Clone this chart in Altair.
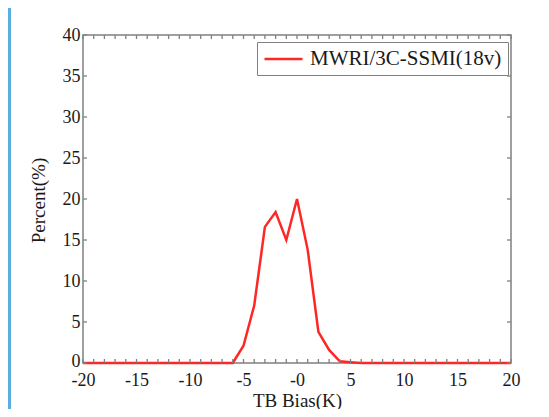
import altair as alt
import pandas as pd

# ---- data ----
bias = list(range(-20, 21))
percent = ([0] * 14
           + [0, 2.1, 7.0, 16.6, 18.4, 15.0, 20.0, 13.8, 3.8, 1.6, 0.2, 0.1]
           + [0] * 15)
series_name = "MWRI/3C-SSMI(18v)"

x_tick_labels = [-20, -15, -10, -5, 0, 5, 10, 15, 20]
y_tick_labels = [0, 5, 10, 15, 20, 25, 30, 35, 40]
x_minor_ticks = list(range(-20, 21))
y_ticks = list(range(0, 41, 5))

W, H = 428, 328
FONT = "Liberation Serif"
FRAME = "#808080"
TEXT = "#1a1a1a"

df = pd.DataFrame({"bias": bias, "percent": percent, "series": [series_name] * len(bias)})
xt = pd.DataFrame({"bias": x_minor_ticks})
yt = pd.DataFrame({"percent": y_ticks})

xscale = alt.Scale(domain=[-20, 20], nice=False, zero=False)
yscale = alt.Scale(domain=[0, 40], nice=False, zero=False)

xaxis = alt.Axis(
    values=x_tick_labels, ticks=False, domain=False, grid=False,
    labelExpr="datum.value == 0 ? '-0' : '' + datum.value",
    labelFlush=False, labelOverlap=False, labelPadding=8,
    labelFont=FONT, labelFontSize=18, labelColor=TEXT,
    title="TB Bias(K)", titleFont=FONT, titleFontSize=19, titleFontWeight="normal",
    titleColor=TEXT, titleBaseline="alphabetic", titleY=43, titleX=W / 2,
)
yaxis = alt.Axis(
    values=y_tick_labels, ticks=False, domain=False, grid=False,
    labelFlush=False, labelOverlap=False, labelPadding=3,
    labelOffset={"condition": {"test": "datum.value == 0", "value": -2}, "value": 0},
    labelFont=FONT, labelFontSize=18, labelColor=TEXT,
    title="Percent(%)", titleFont=FONT, titleFontSize=19, titleFontWeight="normal",
    titleColor=TEXT, titleX=-45, titleY=H / 2 + 1, titleAngle=270,
    titleBaseline="middle", titleAlign="center",
)

line = alt.Chart(df).mark_line(strokeWidth=2.5).encode(
    x=alt.X("bias:Q", scale=xscale, axis=xaxis),
    y=alt.Y("percent:Q", scale=yscale, axis=yaxis),
    color=alt.Color(
        "series:N",
        scale=alt.Scale(range=["#ff2626"]),
        legend=alt.Legend(
            orient="none", legendX=174, legendY=7, title=None,
            symbolType="M-1,0H3", symbolSize=361, symbolStrokeWidth=2.5,
            labelFont=FONT, labelFontSize=21, labelColor=TEXT, labelLimit=400,
            labelOffset=25, padding=6, strokeColor=FRAME, fillColor="white",
        ),
    ),
)

tick_style = dict(color=FRAME, strokeWidth=1.3)
bottom_ticks = alt.Chart(xt).mark_rule(**tick_style).encode(
    x=alt.X("bias:Q", scale=xscale, axis=xaxis), y=alt.value(H), y2=alt.value(H - 4))
top_ticks = alt.Chart(xt).mark_rule(**tick_style).encode(
    x=alt.X("bias:Q", scale=xscale, axis=xaxis), y=alt.value(0), y2=alt.value(4))
left_ticks = alt.Chart(yt).mark_rule(**tick_style).encode(
    y=alt.Y("percent:Q", scale=yscale, axis=yaxis), x=alt.value(0), x2=alt.value(4))
right_ticks = alt.Chart(yt).mark_rule(**tick_style).encode(
    y=alt.Y("percent:Q", scale=yscale, axis=yaxis), x=alt.value(W), x2=alt.value(W - 4))

blue_strip = alt.Chart(xt).mark_rect(color="#5aaee0").encode(
    x=alt.value(-75), x2=alt.value(-72), y=alt.value(-27), y2=alt.value(H + 46))

chart = alt.layer(
    line, bottom_ticks, top_ticks, left_ticks, right_ticks, blue_strip
).properties(
    width=W, height=H,
    autosize=alt.AutoSizeParams(type="none"),
    padding={"left": 75, "top": 27, "right": 30, "bottom": 46},
    background="white",
).configure_view(stroke=FRAME, strokeWidth=1.5)

chart.save("out.html", embed_options={"renderer": "svg", "actions": False})
